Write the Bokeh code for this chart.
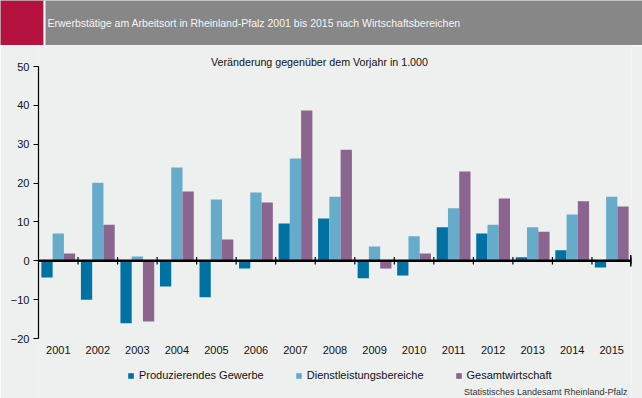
from bokeh.plotting import figure
from bokeh.layouts import column
from bokeh.models import (Range1d, FixedTicker, BoxAnnotation, Label, Legend, LegendItem,
                          Span, ColumnDataSource)
from bokeh.transform import dodge
from bokeh.embed import file_html
from bokeh.resources import INLINE

# ---------------- data ----------------
years = ["2001", "2002", "2003", "2004", "2005", "2006", "2007", "2008",
         "2009", "2010", "2011", "2012", "2013", "2014", "2015"]
produzierendes_gewerbe = [-4.3, -10.0, -16.1, -6.6, -9.4, -2.0, 9.6, 10.9,
                          -4.5, -3.8, 8.6, 7.0, 0.9, 2.7, -1.7]
dienstleistungsbereiche = [7.0, 20.1, 1.1, 24.0, 15.8, 17.6, 26.3, 16.5,
                           3.7, 6.3, 13.5, 9.3, 8.6, 11.9, 16.5]
gesamtwirtschaft = [1.9, 9.3, -15.6, 17.8, 5.5, 15.0, 38.7, 28.6,
                    -2.0, 1.9, 23.0, 16.0, 7.5, 15.3, 14.0]
series_names = ["Produzierendes Gewerbe", "Dienstleistungsbereiche", "Gesamtwirtschaft"]
y_ticks = [-20, -10, 0, 10, 20, 30, 40, 50]
title_text = "Erwerbstätige am Arbeitsort in Rheinland-Pfalz 2001 bis 2015 nach Wirtschaftsbereichen"
subtitle_text = "Veränderung gegenüber dem Vorjahr in 1.000"
source_text = "Statistisches Landesamt Rheinland-Pfalz"

# ---------------- styles ----------------
colors = ["#0071A3", "#66ACCA", "#8B6490"]
BG = "#EEF0EF"
FONT = "Liberation Sans"

W = 642
HH = 45            # header height
CH = 398 - HH      # chart height
L, R = 38, 11
FW, FH = W - L - R, CH
Y_MIN, Y_MAX = -20, 50
PX_PER_UNIT = 272 / (Y_MAX - Y_MIN)
y_lo = Y_MIN - 60 / PX_PER_UNIT
y_hi = Y_MAX + 21 / PX_PER_UNIT

# ---------------- header ----------------
h = figure(width=W, height=HH, output_backend="svg", toolbar_location=None,
           x_range=Range1d(0, W), y_range=Range1d(0, HH),
           min_border=0, min_border_left=0, min_border_right=0,
           min_border_top=0, min_border_bottom=0)
h.frame_align = False
h.axis.visible = False
h.grid.visible = False
h.outline_line_color = None
h.background_fill_color = "#878787"
h.border_fill_color = "#878787"
for lft, rgt, col in [(0, 43, "#B5123F"), (43, 45, "#FFFFFF")]:
    h.add_layout(BoxAnnotation(left=lft, right=rgt, bottom=0, top=HH,
                               left_units="screen", right_units="screen",
                               bottom_units="screen", top_units="screen",
                               fill_color=col, fill_alpha=1, line_color=None))
h.add_layout(Label(x=47, y=HH / 2, x_units="screen", y_units="screen", text=title_text,
                   text_font=FONT, text_font_size="10.5px", text_color="#F6F6F6",
                   text_baseline="middle", text_align="left"))

# ---------------- chart ----------------
idx = list(range(len(years)))
src = ColumnDataSource(dict(idx=idx, years=years, p=produzierendes_gewerbe,
                            d=dienstleistungsbereiche, g=gesamtwirtschaft))

p = figure(width=W, height=CH, output_backend="svg", toolbar_location=None,
           x_range=Range1d(-0.5, len(years) - 0.5), y_range=Range1d(y_lo, y_hi),
           min_border_left=L, min_border_right=R, min_border_top=0, min_border_bottom=0)
p.frame_align = False
p.background_fill_color = BG
p.border_fill_color = BG
p.outline_line_color = None
p.xgrid.visible = False
p.ygrid.visible = False

bw = 0.285
renderers = []
for field, off, col in zip(["p", "d", "g"], [-bw, 0, bw], colors):
    r = p.vbar(x=dodge("idx", off, range=p.x_range), top=field, bottom=0, width=bw,
               source=src, fill_color=col, line_color=None)
    renderers.append(r)

# zero line and category boundary ticks
p.add_layout(Span(location=0, dimension="width", line_color="black", line_width=2.5))
bounds = [i + 0.5 for i in idx]
p.segment(x0=bounds, y0=[-0.95] * len(bounds), x1=bounds, y1=[0.95] * len(bounds),
          line_color="black", line_width=1.2)
p.segment(x0=[bounds[-1]], y0=[-1.5], x1=[bounds[-1]], y1=[1.5],
          line_color="black", line_width=3)

# y axis
ya = p.yaxis[0]
ya.ticker = FixedTicker(ticks=y_ticks)
ya.bounds = (Y_MIN, Y_MAX)
ya.axis_line_color = "black"
ya.axis_line_width = 1.2
ya.major_tick_out = 5
ya.major_tick_in = 0
ya.major_tick_line_color = "black"
ya.major_tick_line_width = 1.2
ya.minor_tick_line_color = None
ya.major_label_standoff = 4
ya.major_label_text_font = FONT
ya.major_label_text_font_size = "11px"
ya.major_label_text_color = "#111111"

# x axis (fixed at the bottom of the value scale)
xa = p.xaxis[0]
xa.fixed_location = Y_MIN
xa.ticker = FixedTicker(ticks=idx)
xa.major_label_overrides = {i: y for i, y in zip(idx, years)}
xa.axis_line_color = None
xa.major_tick_line_color = None
xa.minor_tick_line_color = None
xa.major_tick_out = 0
xa.major_tick_in = 0
xa.major_label_standoff = 7
xa.major_label_text_font = FONT
xa.major_label_text_font_size = "11px"
xa.major_label_text_color = "#111111"

p.add_layout(Label(x=281, y=FH - 16, x_units="screen", y_units="screen", text=subtitle_text,
                   text_font=FONT, text_font_size="10.7px", text_color="#111111",
                   text_baseline="middle", text_align="center"))
p.add_layout(Label(x=589, y=7, x_units="screen", y_units="screen", text=source_text,
                   text_font=FONT, text_font_size="9px", text_color="#333333",
                   text_baseline="middle", text_align="right"))

legend = Legend(items=[LegendItem(label=n, renderers=[r]) for n, r in zip(series_names, renderers)],
                orientation="horizontal", location=(89, 16.5), padding=0, margin=0,
                spacing=31, glyph_width=7, glyph_height=7, label_standoff=5,
                label_height=13, label_text_font=FONT, label_text_font_size="11px",
                label_text_color="#111111", border_line_color=None,
                background_fill_alpha=0)
p.add_layout(legend)

layout = column(h, p, spacing=0)
open("out.html", "w").write(file_html(layout, INLINE))
